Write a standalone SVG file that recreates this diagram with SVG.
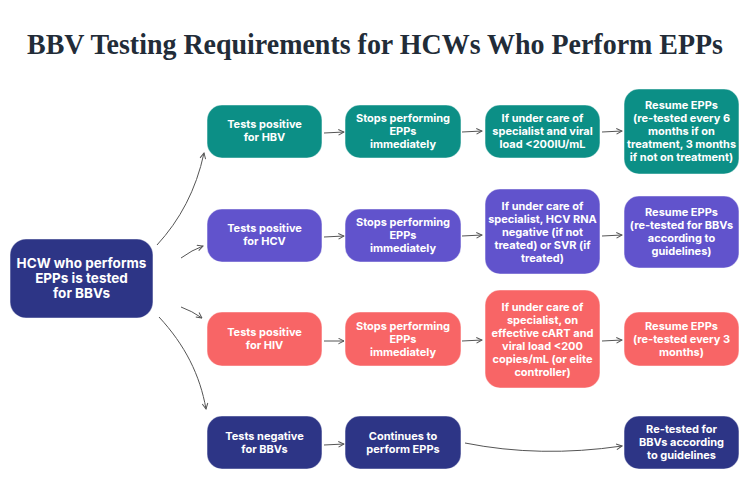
<svg xmlns="http://www.w3.org/2000/svg" width="750" height="500" viewBox="0 0 750 500">
<defs>
<marker id="arr" viewBox="0 0 10 10" refX="9" refY="5" markerWidth="7" markerHeight="7" markerUnits="userSpaceOnUse" orient="auto">
<path d="M1,1 L9,5 L1,9" fill="none" stroke="#555" stroke-width="1.4"/>
</marker>
<style>
.title{font-family:"Liberation Serif","DejaVu Serif",serif;font-weight:bold;font-size:29px;fill:#222c38}
.box{stroke:#ffffff;stroke-opacity:0.45;stroke-width:1.2}
.teal{fill:#0c8f86}
.purple{fill:#6153cc}
.coral{fill:#f86566}
.navy{fill:#2d3586}
.t{font-family:Inter,"Liberation Sans",sans-serif;font-weight:bold;font-size:11px;fill:#ffffff;text-anchor:middle}
.tl{font-family:Inter,"Liberation Sans",sans-serif;font-weight:bold;font-size:13.5px;fill:#ffffff;text-anchor:middle}
.c{fill:none;stroke:#555;stroke-width:1;marker-end:url(#arr)}
</style>
</defs>
<rect width="750" height="500" fill="#ffffff"/>
<text class="title" x="27" y="54" textLength="696" lengthAdjust="spacingAndGlyphs">BBV Testing Requirements for HCWs Who Perform EPPs</text>

<g id="connectors">
<path class="c" d="M157,245 C180,220 196,190 204,153"/>
<path class="c" d="M181,258 Q192,250 203,246"/>
<path class="c" d="M181,307 Q192,311 202,318"/>
<path class="c" d="M159,317 C185,345 200,375 206,409"/>
<path class="c" d="M324,133 L344,132"/>
<path class="c" d="M324,237 L344,236"/>
<path class="c" d="M324,341 L344,341"/>
<path class="c" d="M324,445 L344,444"/>
<path class="c" d="M462,132 L482,131"/>
<path class="c" d="M462,236 L482,235"/>
<path class="c" d="M462,341 L482,340"/>
<path class="c" d="M602,132 L622,131"/>
<path class="c" d="M602,236 L622,235"/>
<path class="c" d="M602,341 L622,340"/>
<path class="c" d="M465,443 Q540,458 622,446"/>
</g>

<g id="start">
<rect class="box navy" x="10" y="239" width="143" height="79" rx="16"/>
<text class="tl" x="81.5" y="268">HCW who performs</text>
<text class="tl" x="81.5" y="283">EPPs is tested</text>
<text class="tl" x="81.5" y="298">for BBVs</text>
</g>

<g id="hbv1">
<rect class="box teal" x="207" y="105" width="115" height="53" rx="15"/>
<text class="t" x="264.5" y="128">Tests positive</text>
<text class="t" x="264.5" y="141">for HBV</text>
</g>
<g id="hbv2">
<rect class="box teal" x="345" y="105" width="116" height="53" rx="15"/>
<text class="t" x="403" y="122">Stops performing</text>
<text class="t" x="403" y="135">EPPs</text>
<text class="t" x="403" y="148">immediately</text>
</g>
<g id="hbv3">
<rect class="box teal" x="485" y="105" width="115" height="53" rx="15"/>
<text class="t" x="542.5" y="122">If under care of</text>
<text class="t" x="542.5" y="135">specialist and viral</text>
<text class="t" x="542.5" y="148">load &lt;200IU/mL</text>
</g>
<g id="hbv4">
<rect class="box teal" x="624" y="89" width="115" height="85" rx="15"/>
<text class="t" x="681.5" y="109">Resume EPPs</text>
<text class="t" x="681.5" y="122">(re-tested every 6</text>
<text class="t" x="681.5" y="135">months if on</text>
<text class="t" x="681.5" y="148">treatment, 3 months</text>
<text class="t" x="681.5" y="161">if not on treatment)</text>
</g>

<g id="hcv1">
<rect class="box purple" x="207" y="209" width="115" height="53" rx="15"/>
<text class="t" x="264.5" y="232">Tests positive</text>
<text class="t" x="264.5" y="245">for HCV</text>
</g>
<g id="hcv2">
<rect class="box purple" x="345" y="209" width="116" height="53" rx="15"/>
<text class="t" x="403" y="226">Stops performing</text>
<text class="t" x="403" y="239">EPPs</text>
<text class="t" x="403" y="252">immediately</text>
</g>
<g id="hcv3">
<rect class="box purple" x="485" y="189" width="115" height="85" rx="15"/>
<text class="t" x="542.5" y="210">If under care of</text>
<text class="t" x="542.5" y="223">specialist, HCV RNA</text>
<text class="t" x="542.5" y="236">negative (if not</text>
<text class="t" x="542.5" y="249">treated) or SVR (if</text>
<text class="t" x="542.5" y="262">treated)</text>
</g>
<g id="hcv4">
<rect class="box purple" x="624" y="196" width="115" height="72" rx="15"/>
<text class="t" x="681.5" y="216">Resume EPPs</text>
<text class="t" x="681.5" y="229">(re-tested for BBVs</text>
<text class="t" x="681.5" y="242">according to</text>
<text class="t" x="681.5" y="255">guidelines)</text>
</g>

<g id="hiv1">
<rect class="box coral" x="207" y="312" width="115" height="54" rx="15"/>
<text class="t" x="264.5" y="336">Tests positive</text>
<text class="t" x="264.5" y="349">for HIV</text>
</g>
<g id="hiv2">
<rect class="box coral" x="345" y="312" width="116" height="54" rx="15"/>
<text class="t" x="403" y="330">Stops performing</text>
<text class="t" x="403" y="343">EPPs</text>
<text class="t" x="403" y="356">immediately</text>
</g>
<g id="hiv3">
<rect class="box coral" x="485" y="290" width="115" height="98" rx="15"/>
<text class="t" x="542.5" y="311">If under care of</text>
<text class="t" x="542.5" y="324">specialist, on</text>
<text class="t" x="542.5" y="337">effective cART and</text>
<text class="t" x="542.5" y="350">viral load &lt;200</text>
<text class="t" x="542.5" y="363">copies/mL (or elite</text>
<text class="t" x="542.5" y="376">controller)</text>
</g>
<g id="hiv4">
<rect class="box coral" x="624" y="312" width="115" height="54" rx="15"/>
<text class="t" x="681.5" y="330">Resume EPPs</text>
<text class="t" x="681.5" y="343">(re-tested every 3</text>
<text class="t" x="681.5" y="356">months)</text>
</g>

<g id="neg1">
<rect class="box navy" x="207" y="416" width="115" height="53" rx="15"/>
<text class="t" x="264.5" y="440">Tests negative</text>
<text class="t" x="264.5" y="453">for BBVs</text>
</g>
<g id="neg2">
<rect class="box navy" x="345" y="416" width="116" height="53" rx="15"/>
<text class="t" x="403" y="440">Continues to</text>
<text class="t" x="403" y="453">perform EPPs</text>
</g>
<g id="neg4">
<rect class="box navy" x="624" y="416" width="115" height="53" rx="15"/>
<text class="t" x="681.5" y="433">Re-tested for</text>
<text class="t" x="681.5" y="446">BBVs according</text>
<text class="t" x="681.5" y="459">to guidelines</text>
</g>
</svg>
